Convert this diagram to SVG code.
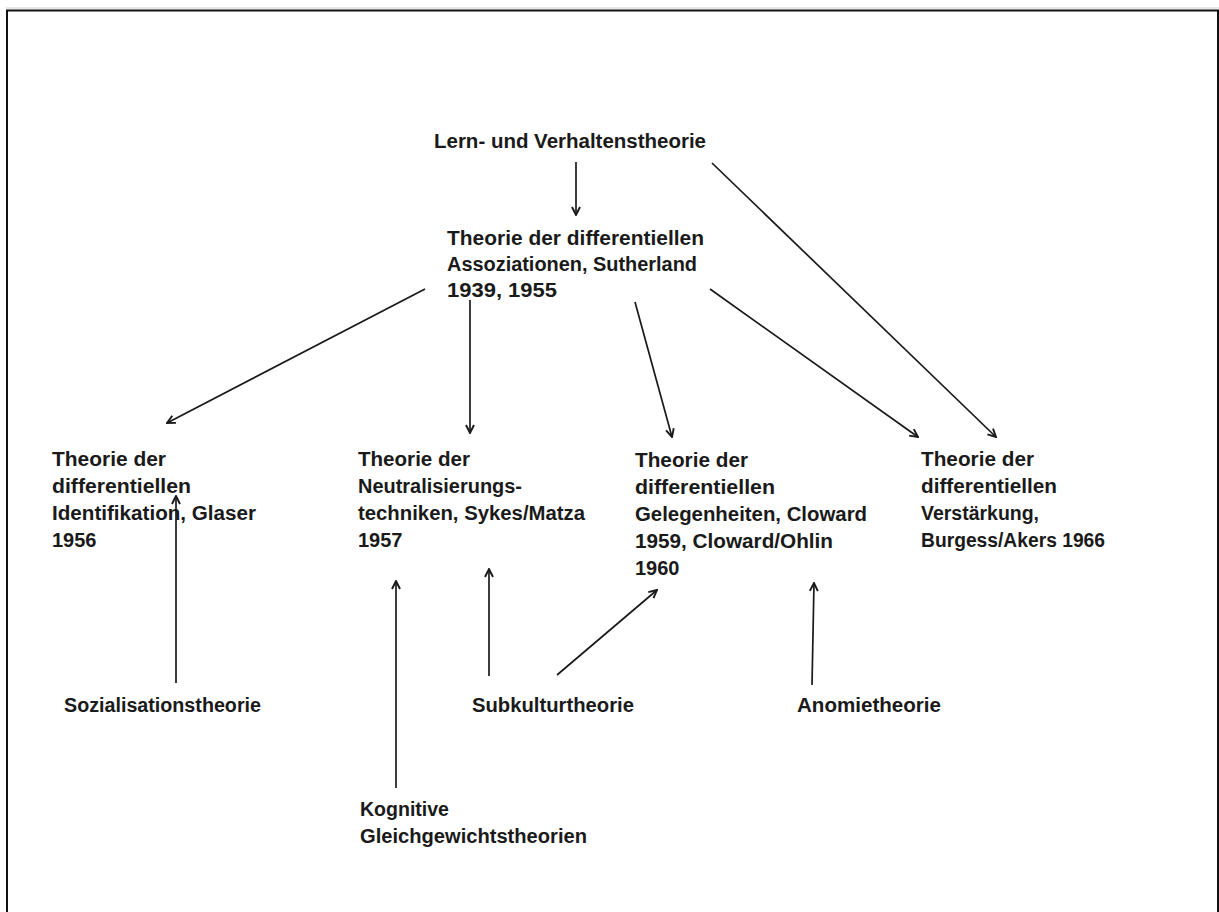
<svg xmlns="http://www.w3.org/2000/svg" width="1219" height="912" viewBox="0 0 1219 912">
<defs>
<style>
text{font-family:"Liberation Sans",Arial,sans-serif;font-size:20px;font-weight:bold;fill:#1a1a1a}
.c{stroke:#1a1a1a;stroke-width:1.7;fill:none;marker-end:url(#a)}
</style>
<marker id="a" viewBox="0 0 10 10" refX="9" refY="5" markerWidth="10" markerHeight="10" markerUnits="userSpaceOnUse" orient="auto">
<path d="M1,1 L9,5 L1,9" fill="none" stroke="#1a1a1a" stroke-width="1.9"/>
</marker>
</defs>
<rect width="1219" height="912" fill="#fff"/>
<line x1="6" y1="8" x2="1219" y2="8" stroke="#ccc" stroke-width="1"/>
<path d="M7,930 V10.5 H1218 V930" fill="none" stroke="#111" stroke-width="2"/>
<g id="connectors">
<line class="c" x1="576" y1="162" x2="576" y2="215"/>
<line class="c" x1="712" y1="163" x2="996" y2="437"/>
<line class="c" x1="425" y1="289" x2="167" y2="423"/>
<line class="c" x1="470" y1="300" x2="470" y2="433"/>
<line class="c" x1="635" y1="302" x2="672" y2="437"/>
<line class="c" x1="710" y1="289" x2="918" y2="437"/>
<line class="c" x1="176" y1="683" x2="176" y2="496"/>
<line class="c" x1="396" y1="788" x2="396" y2="581"/>
<line class="c" x1="489" y1="676" x2="489" y2="569"/>
<line class="c" x1="557" y1="675" x2="657" y2="590"/>
<line class="c" x1="812" y1="685" x2="814" y2="583"/>
</g>
<g id="n-lern"><text x="434" y="148" textLength="272" lengthAdjust="spacingAndGlyphs">Lern- und Verhaltenstheorie</text></g>
<g id="n-sutherland"><text x="447" y="245" textLength="257" lengthAdjust="spacingAndGlyphs">Theorie der differentiellen</text><text x="447" y="271" textLength="250" lengthAdjust="spacingAndGlyphs">Assoziationen, Sutherland</text><text x="447" y="297" textLength="110" lengthAdjust="spacingAndGlyphs">1939, 1955</text></g>
<g id="n-glaser"><text x="52" y="466" textLength="114" lengthAdjust="spacingAndGlyphs">Theorie der</text><text x="52" y="493" textLength="139" lengthAdjust="spacingAndGlyphs">differentiellen</text><text x="52" y="520" textLength="204" lengthAdjust="spacingAndGlyphs">Identifikation,  Glaser</text><text x="52" y="547">1956</text></g>
<g id="n-sykes"><text x="358" y="466" textLength="112" lengthAdjust="spacingAndGlyphs">Theorie der</text><text x="358" y="493" textLength="164" lengthAdjust="spacingAndGlyphs">Neutralisierungs-</text><text x="358" y="520" textLength="227" lengthAdjust="spacingAndGlyphs">techniken, Sykes/Matza</text><text x="358" y="547">1957</text></g>
<g id="n-cloward"><text x="635" y="467" textLength="113" lengthAdjust="spacingAndGlyphs">Theorie der</text><text x="635" y="494" textLength="140" lengthAdjust="spacingAndGlyphs">differentiellen</text><text x="635" y="521" textLength="232" lengthAdjust="spacingAndGlyphs">Gelegenheiten, Cloward</text><text x="635" y="548" textLength="198" lengthAdjust="spacingAndGlyphs">1959, Cloward/Ohlin</text><text x="635" y="575">1960</text></g>
<g id="n-burgess"><text x="921" y="466" textLength="113" lengthAdjust="spacingAndGlyphs">Theorie der</text><text x="921" y="493" textLength="136" lengthAdjust="spacingAndGlyphs">differentiellen</text><text x="921" y="520" textLength="118" lengthAdjust="spacingAndGlyphs">Verstärkung,</text><text x="921" y="547" textLength="184" lengthAdjust="spacingAndGlyphs">Burgess/Akers 1966</text></g>
<g id="n-sozialisation"><text x="64" y="712" textLength="197" lengthAdjust="spacingAndGlyphs">Sozialisationstheorie</text></g>
<g id="n-subkultur"><text x="472" y="712" textLength="162" lengthAdjust="spacingAndGlyphs">Subkulturtheorie</text></g>
<g id="n-anomie"><text x="797" y="712" textLength="144" lengthAdjust="spacingAndGlyphs">Anomietheorie</text></g>
<g id="n-kognitive"><text x="360" y="816" textLength="89" lengthAdjust="spacingAndGlyphs">Kognitive</text><text x="360" y="843" textLength="227" lengthAdjust="spacingAndGlyphs">Gleichgewichtstheorien</text></g>
</svg>
